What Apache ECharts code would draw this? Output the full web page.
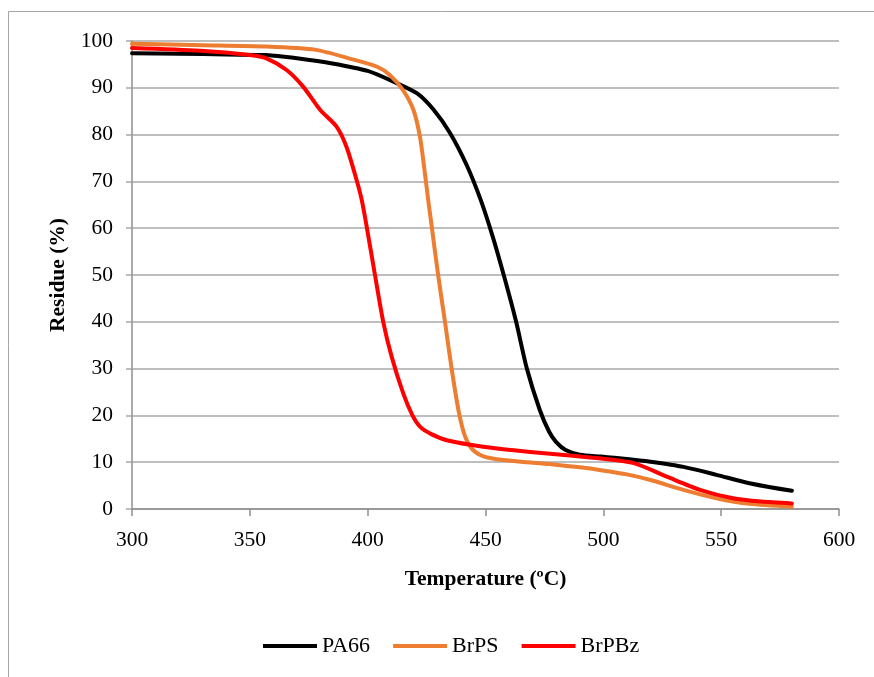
<!DOCTYPE html>
<html>
<head>
<meta charset="utf-8">
<script src="https://cdn.jsdelivr.net/npm/echarts@6/dist/echarts.min.js"></script>
<style>
html,body{margin:0;padding:0;background:#fff;}
#chart{width:874px;height:677px;}
</style>
</head>
<body>
<div id="chart"></div>
<script>
// Thermogravimetric residue curves (temperature in °C, residue in %)
const seriesNames = ['PA66', 'BrPS', 'BrPBz'];
const seriesColors = ['#000000', '#ED7D31', '#FF0000'];

const pa66Temp = [300, 320, 340, 357, 370, 385, 400, 411, 421, 428, 435, 442, 448, 453, 458, 463, 467.5, 473, 477, 480, 484, 490, 499, 510, 520, 534, 548, 562, 580];
const pa66Residue = [97.4, 97.3, 97.1, 97.0, 96.3, 95.2, 93.6, 91.3, 88.8, 85.3, 80.3, 73.5, 66.0, 58.3, 49.5, 40.0, 30.1, 21.2, 16.5, 14.3, 12.6, 11.6, 11.2, 10.7, 10.1, 9.0, 7.3, 5.5, 3.9];

const brpsTemp = [300, 330, 357, 378, 392, 404, 409.5, 415, 419.4, 422.2, 424.3, 425.7, 427.2, 429.9, 432.8, 435.6, 438.5, 441, 444, 448, 453, 465, 477, 490, 499, 510, 520, 534, 548, 562, 580];
const brpsResidue = [99.4, 99.1, 98.8, 98.1, 96.3, 94.5, 92.7, 89.5, 85.3, 79.5, 71.7, 66.0, 60.3, 50.0, 40.0, 30.1, 21.2, 16.0, 13.0, 11.5, 10.8, 10.1, 9.6, 8.9, 8.3, 7.4, 6.2, 4.1, 2.3, 1.1, 0.5];

const brpbzTemp = [300, 329, 350, 357, 365.6, 372.7, 379.8, 386.8, 391, 395.3, 397.5, 399.6, 403.1, 406.6, 410.2, 415.1, 419, 422.2, 427, 433.6, 449, 463, 475, 487, 499, 513, 527, 541, 555, 567, 580];
const brpbzResidue = [98.5, 97.9, 97.0, 96.3, 93.8, 90.2, 85.3, 81.7, 77.4, 70.3, 66.0, 60.3, 50.0, 40.0, 32.5, 24.7, 20.0, 17.6, 16.0, 14.7, 13.3, 12.5, 11.9, 11.4, 10.8, 9.8, 6.9, 4.1, 2.3, 1.6, 1.2];

const xTitle = 'Temperature (ºC)';
const yTitle = 'Residue (%)';

const pairs = (xs, ys) => xs.map((x, i) => [x, ys[i]]);
const seriesData = [pairs(pa66Temp, pa66Residue), pairs(brpsTemp, brpsResidue), pairs(brpbzTemp, brpbzResidue)];

const FONT = '"Liberation Serif", "DejaVu Serif", serif';
const AXIS_GREY = '#8e8e8e';
const GRID_GREY = '#a8a8a8';

const chart = echarts.init(document.getElementById('chart'), null, {renderer: 'canvas'});
chart.setOption({
  animation: false,
  backgroundColor: '#ffffff',
  graphic: [{
    type: 'rect',
    shape: {x: 8.5, y: 11.5, width: 1000, height: 1000},
    style: {fill: 'none', stroke: '#a6a6a6', lineWidth: 1},
    silent: true
  }],
  grid: {left: 132, top: 41, right: 35, bottom: 168},
  legend: {
    top: 630,
    left: 258,
    icon: 'rect',
    itemWidth: 54,
    itemHeight: 4,
    itemGap: 23,
    textStyle: {fontFamily: FONT, fontSize: 22, color: '#000'},
    data: seriesNames
  },
  xAxis: {
    type: 'value',
    min: 300, max: 600, interval: 50,
    name: xTitle,
    nameLocation: 'middle',
    nameGap: 59,
    nameTextStyle: {fontFamily: FONT, fontSize: 21.5, fontWeight: 'bold', color: '#000'},
    axisLine: {show: true, lineStyle: {color: AXIS_GREY, width: 1.5}},
    axisTick: {show: true, inside: false, length: 7, lineStyle: {color: AXIS_GREY, width: 1.5}},
    axisLabel: {fontFamily: FONT, fontSize: 21.5, color: '#000', margin: 20},
    splitLine: {show: false}
  },
  yAxis: {
    type: 'value',
    min: 0, max: 100, interval: 10,
    name: yTitle,
    nameLocation: 'middle',
    nameGap: 57,
    nameRotate: 90,
    nameTextStyle: {fontFamily: FONT, fontSize: 21.5, fontWeight: 'bold', color: '#000'},
    axisLine: {show: true, lineStyle: {color: AXIS_GREY, width: 1.5}},
    axisTick: {show: true, inside: false, length: 6, lineStyle: {color: GRID_GREY, width: 1.5}},
    axisLabel: {fontFamily: FONT, fontSize: 21.5, color: '#000', margin: 19},
    splitLine: {show: true, lineStyle: {color: GRID_GREY, width: 1.5}}
  },
  series: seriesNames.map((name, i) => ({
    name: name,
    type: 'line',
    data: seriesData[i],
    smooth: 0.25,
    showSymbol: false,
    symbol: 'none',
    color: seriesColors[i],
    lineStyle: {color: seriesColors[i], width: 4, cap: 'round', join: 'round'},
    z: 3 + i
  }))
});
</script>
</body>
</html>
